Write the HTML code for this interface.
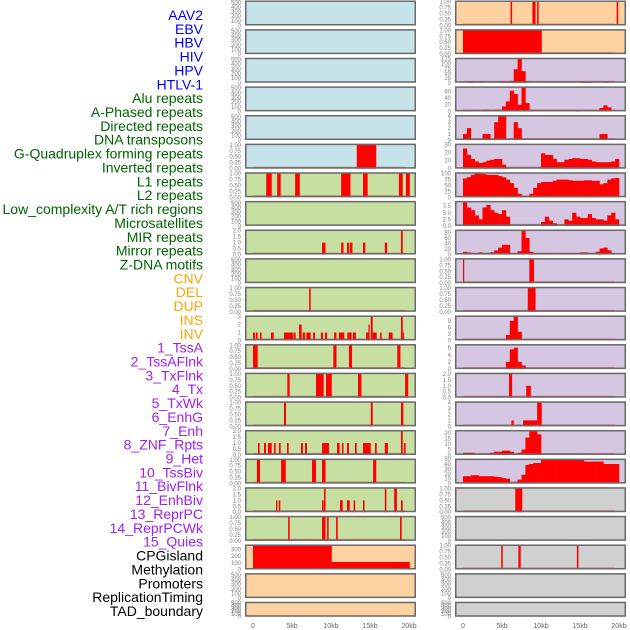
<!DOCTYPE html>
<html><head><meta charset="utf-8">
<style>
html,body{margin:0;padding:0;background:#fff;width:630px;height:630px;overflow:hidden;}
svg{display:block;}
</style></head>
<body>
<svg id="chart" width="630" height="630" xmlns="http://www.w3.org/2000/svg" font-family="Liberation Sans, sans-serif"></svg>
<script>
// ---- row labels ----
const rowLabels=["AAV2","EBV","HBV","HIV","HPV","HTLV-1","Alu repeats","A-Phased repeats","Directed repeats","DNA transposons","G-Quadruplex forming repeats","Inverted repeats","L1 repeats","L2 repeats","Low_complexity A/T rich regions","Microsatellites","MIR repeats","Mirror repeats","Z-DNA motifs","CNV","DEL","DUP","INS","INV","1_TssA","2_TssAFlnk","3_TxFlnk","4_Tx","5_TxWk","6_EnhG","7_Enh","8_ZNF_Rpts","9_Het","10_TssBiv","11_BivFlnk","12_EnhBiv","13_ReprPC","14_ReprPCWk","15_Quies","CPGisland","Methylation","Promoters","ReplicationTiming","TAD_boundary"];
const labelColors=["#0000ff","#0000ff","#0000ff","#0000ff","#0000ff","#0000ff","#006400","#006400","#006400","#006400","#006400","#006400","#006400","#006400","#006400","#006400","#006400","#006400","#006400","#ffa500","#ffa500","#ffa500","#ffa500","#ffa500","#a020f0","#a020f0","#a020f0","#a020f0","#a020f0","#a020f0","#a020f0","#a020f0","#a020f0","#a020f0","#a020f0","#a020f0","#a020f0","#a020f0","#a020f0","#000000","#000000","#000000","#000000","#000000"];
const xTicks=[0,5,10,15,20];
const xTickLabels=["0","5kb","10kb","15kb","20kb"];

// ---- tick arrays ----
const t500=[0,100,200,300,400,500];
const t1=[0,0.25,0.5,0.75,1];
const t2=[0,0.5,1,1.5,2];
const t3=[0,1,2,3];
const t4=[0,1,2,3,4];
const tHiv=[0,25,50,75,100,125];
const tAlu=[0,20,40,60];
const tGq=[0,10,20,30];
const tInv=[0,25,50,75,100];
const tL2=[0,2.5,5,7.5];
const tLow=[0,20,40,60,80];
const tIns=[0,3,6,9];
const tInv2=[0,2,4,6];
const t20=[0,5,10,15,20];
const t50=[0,10,20,30,40,50];
const tCpg=[0,100,200,300];

// ---- left column bars [startKb, endKb, value] ----
const gquadLeftBars=[[13.3,15.8,1]];
const l1LeftBars=[[1.7,2.4,1],[3.1,3.55,1],[5.4,6.0,1],[11.3,12.5,1],[14.1,14.7,1],[18.7,19.2,1],[19.6,20.1,1]];
const mirLeftBars=[[8.85,9.3,1],[11.3,11.6,1],[12.05,12.3,1],[12.4,12.75,1],[14.1,14.4,1],[16.9,17.2,1],[18.97,19.2,2]];
const cnvLeftBars=[[7.2,7.4,1]];
const dupLeftBars=[[0,0.26,1],[0.38,0.6,1],[0.9,1.1,1],[2.3,2.65,1],[3.97,5.17,1],[5.26,5.47,1],[5.9,6.24,2],[6.37,6.67,1],[6.84,7.4,1],[7.7,7.95,1],[8.7,8.97,1],[9.23,9.5,1],[10.4,10.7,1],[11.0,11.7,1],[12.1,12.65,1],[12.8,13.2,1],[14.5,14.8,1],[14.8,14.96,2],[15.1,15.35,3],[15.35,15.86,1],[16.3,16.5,1],[17.4,17.9,1],[18.97,19.2,3],[19.2,19.35,1]];
const tssaLeftBars=[[0,0.6,1],[10.3,10.7,1],[12.3,12.7,1],[18.5,18.9,1]];
const tssaflnkLeftBars=[[4.4,4.7,1],[8.08,9.06,1],[9.36,10.1,1],[13.46,13.9,1],[19.5,19.9,1]];
const txflnkLeftBars=[[3.97,4.23,1],[15.1,15.35,1],[18.97,19.27,1]];
const txLeftBars=[[0.64,0.85,1],[1.41,1.67,1],[1.92,2.4,1],[2.7,2.9,1],[3.33,3.55,1],[4.36,4.57,1],[6.15,6.4,1],[6.67,6.92,1],[8.85,9.74,1],[10.77,11.1,1],[11.4,11.6,1],[12.05,12.3,1],[13.08,13.3,1],[14.1,15.1,1],[15.64,15.86,1],[16.9,17.3,1],[18.97,19.2,2],[19.36,19.57,1]];
const txwkLeftBars=[[0.5,0.9,1],[3.6,4.2,1],[7.56,8.08,1],[8.85,9.3,1],[15.4,15.8,1]];
const enhgLeftBars=[[2.95,3.12,1],[3.3,3.5,1],[8.85,9.06,1],[9.1,9.3,2],[11.15,11.5,1],[12.05,12.4,1],[12.9,13.1,1],[14.1,14.3,1],[16.9,17.1,2],[18.1,18.45,2],[18.97,19.2,1]];
const enhLeftBars=[[4.5,4.7,1],[8.85,9.3,1],[9.5,9.7,1],[10.65,10.86,1],[18.85,19.06,1]];
const cpgLeftBars=[[0,10.1,375],[10.1,20.1,112]];

// ---- right column bars / bins (0.5kb bins) ----
const aavRightBars=[[6.1,6.3,1],[8.9,9.3,1],[9.5,9.7,1],[19.7,19.9,1]];
const ebvRightBars=[[0,10.1,1]];
const hivBins=[0,2,4,0,2,0,0,0,0,4,4,4,10,70,125,60,5,0,0,0,0,0,0,0,0,0,0,0,0,0,4,4,4,0,0,0,4,0,0,0];
const aluBins=[3,3,0,0,0,5,5,0,5,5,15,30,62,52,20,72,25,5,0,0,0,0,0,0,0,0,0,0,0,4,0,0,0,4,3,10,18,12,0,0];
const directedBins=[1,2,0,0,0,1,1,0,3,4,4,0,0,3,2,0,0,0,0,0,0,0,0,0,0,0,0,0,0,0,0,0,0,0,0,1,1,0,0,0];
const gquadBins=[25,17,12,9,7,8,10,11,12,12,5,1,0,0,0,0,0,0,0,0,19,17,17,12,8,8,11,12,13,13,12,12,11,9,8,8,8,8,9,12];
const invertedBins=[80,85,95,100,100,98,95,95,95,90,85,75,60,40,15,3,5,15,40,60,65,65,65,70,75,75,75,72,70,70,70,72,72,70,70,55,60,75,80,82];
const l2Bins=[9,7,6,4,2.5,7,8,6,5,4.5,6,3.5,0,0,0,0,0,0,0,0,1.5,3.5,2,1,0,0,2.5,2,5,3.5,3,3,4.5,3,2.5,2.5,2,4,5,2.5];
const lowBins=[10,8,5,5,8,5,6,8,15,25,35,35,5,5,12,85,60,10,5,3,5,3,3,0,0,5,5,3,5,5,8,8,5,5,10,22,25,15,5,0];
const microRightBars=[[0,0.15,1],[8.5,9.1,1]];
const mirRightBars=[[8.3,9.3,1]];
const insBins=[0,0,0,0,0,0,0,0,0,0,0,2.5,9,11,4,0,0,0,0,0,0,0,0,0,0,0,0,0,0,0,0,0,0,0,0,0,0,0,0,0];
const invRightBins=[0,0,0,0,0,0,0,0,0,0,0,2,5.5,6,2,1,0,0,0,0,0,0,0,0,0,0,0,0,0,0,0,0,0,0,0,0,0,0,0,0];
const tssaRightBars=[[5.9,6.3,2],[8.1,8.7,1]];
const tssaflnkRightBars=[[6.2,6.5,1],[7.7,9.5,1],[9.5,10.1,4]];
const txflnkBins=[2,2,2,0,0,0,0,2,3,3,4,4,3,0,2,5,16,22,22,19,0,0,0,0,0,0,0,0,0,0,0,0,0,0,0,0,0,0,0,0];
const txBins=[15,15,17,17,15,15,15,15,14,13,11,10,2,4,8,18,38,40,42,42,50,50,48,48,48,48,48,48,48,48,48,45,45,45,45,45,40,40,40,40];
const txwkRightBars=[[6.7,7.6,1]];
const cpgRightBars=[[4.9,5.1,1],[7.1,7.4,1],[14.6,14.8,1]];

// ---- panel layout definitions ----
const leftBgs=["#c6e3ea","#c6e3ea","#c6e3ea","#c6e3ea","#c6e3ea","#c6e3ea","#c7e0a2","#c7e0a2","#c7e0a2","#c7e0a2","#c7e0a2","#c7e0a2","#c7e0a2","#c7e0a2","#c7e0a2","#c7e0a2","#c7e0a2","#c7e0a2","#c7e0a2","#fed1a0","#fed1a0","#fed1a0"];
const rightBgs=["#fed1a0","#fed1a0","#d5c6e2","#d5c6e2","#d5c6e2","#d5c6e2","#d5c6e2","#d5c6e2","#d5c6e2","#d5c6e2","#d5c6e2","#d5c6e2","#d5c6e2","#d5c6e2","#d5c6e2","#d5c6e2","#d5c6e2","#d0d0d0","#d0d0d0","#d0d0d0","#d0d0d0","#d0d0d0"];
const leftTracks=[
 {t:t500,bars:null},{t:t500,bars:null},{t:t500,bars:null},{t:t500,bars:null},{t:t500,bars:null},
 {t:t1,bars:gquadLeftBars},{t:t1,bars:l1LeftBars},{t:t500,bars:null},{t:t2,bars:mirLeftBars},{t:t500,bars:null},
 {t:t1,bars:cnvLeftBars},{t:t3,bars:dupLeftBars},{t:t1,bars:tssaLeftBars},{t:t1,bars:tssaflnkLeftBars},{t:t1,bars:txflnkLeftBars},
 {t:t2,bars:txLeftBars},{t:t1,bars:txwkLeftBars},{t:t2,bars:enhgLeftBars},{t:t1,bars:enhLeftBars},{t:tCpg,bars:cpgLeftBars,max:375},
 {t:t500,bars:null},{t:t500,bars:null}];
const rightTracks=[
 {t:t1,bars:aavRightBars},{t:t1,bars:ebvRightBars},{t:tHiv,bins:hivBins,max:130},{t:tAlu,bins:aluBins,max:75},{t:t4,bins:directedBins,max:4.2},
 {t:tGq,bins:gquadBins,max:31},{t:tInv,bins:invertedBins,max:106},{t:tL2,bins:l2Bins,max:9.5},{t:tLow,bins:lowBins,max:90},{t:t1,bars:microRightBars},
 {t:t1,bars:mirRightBars},{t:tIns,bins:insBins,max:11.5},{t:tInv2,bins:invRightBins,max:7},{t:t2,bars:tssaRightBars},{t:t4,bars:tssaflnkRightBars,max:4.2},
 {t:t20,bins:txflnkBins,max:23},{t:t50,bins:txBins,max:51},{t:t1,bars:txwkRightBars},{t:t500,bars:null},{t:t1,bars:cpgRightBars},
 {t:t500,bars:null},{t:t500,bars:null}];

const NS="http://www.w3.org/2000/svg";
const svg=document.getElementById('chart');
function mk(tag,attrs,parent){const e=document.createElementNS(NS,tag);for(const k in attrs)e.setAttribute(k,attrs[k]);(parent||svg).appendChild(e);return e;}

function rowTop(i){return 0.5+i*28.63;}
function rowH(i){return i===21?15:25;}
function xScale(col,kb){return (col===0?253:463)+kb*7.8;}
function yScale(i,v,max){return rowTop(i)+rowH(i)-v/max*rowH(i);}
function fmt(t,ticks){
  const step=ticks[1]-ticks[0];
  if(step===0.25) return t.toFixed(2);
  if(step===0.5||step===2.5) return t.toFixed(1);
  return String(t);
}

// labels
for(let k=0;k<rowLabels.length;k++){
  const tx=mk('text',{x:203,y:15+k*13.86+5,'text-anchor':'end','font-size':'14',fill:labelColors[k]});
  
  
  tx.textContent=rowLabels[k];
}

function drawPanel(col,i,tr,bg){
  const x0=col===0?245:455, w=171, top=rowTop(i), h=rowH(i);
  const max=tr.max||(tr.t===t500?540:tr.t[tr.t.length-1]*1.05);
  const g=mk('g',{});
  
  
  mk('rect',{x:x0,y:top,width:w,height:h,fill:bg},g);
  // ticks
  tr.t.forEach(t=>{
    const ty=yScale(i,t,max);
    const lab=mk('text',{x:x0-4,y:ty+2,'text-anchor':'end','font-size':'6',fill:'#808080'},g);
    
    
    lab.textContent=fmt(t,tr.t);
  });
  const hasData=tr.bars||tr.bins;
  if(hasData){
    const by=yScale(i,0,max);
    mk('rect',{x:xScale(col,0),y:by-2,width:xScale(col,19.5)-xScale(col,0),height:2,fill:'rgba(210,40,40,0.45)'},g);
  }
  if(tr.bars){
    tr.bars.forEach(b=>{
      const yv=Math.max(yScale(i,b[2],max),top);
      const r=mk('rect',{x:xScale(col,b[0]),y:yv,width:Math.max(1.2,xScale(col,b[1])-xScale(col,b[0])),height:top+h-yv,fill:'#ff0000'},g);
      
      
    });
  }
  if(tr.bins){
    tr.bins.forEach((v,k)=>{
      if(!v) return;
      const yv=Math.max(yScale(i,v,max),top);
      const r=mk('rect',{x:xScale(col,k*0.5),y:yv,width:xScale(col,(k+1)*0.5)-xScale(col,k*0.5)+0.3,height:top+h-yv,fill:'#ff0000'},g);
      
      
    });
  }
  mk('rect',{x:x0+0.75,y:top+0.75,width:w-1.5,height:h-1.5,fill:'none',stroke:'#6a6a6a','stroke-width':1.5},g);
}
for(let i=0;i<22;i++){drawPanel(0,i,leftTracks[i],leftBgs[i]);drawPanel(1,i,rightTracks[i],rightBgs[i]);}

// x axis labels
[0,1].forEach(col=>{
  xTicks.forEach((t,k)=>{
    const tx=mk('text',{x:xScale(col,t),y:628,'text-anchor':'middle','font-size':'7',fill:'#666'});
    
    
    tx.textContent=xTickLabels[k];
  });
});
</script>
</body></html>
